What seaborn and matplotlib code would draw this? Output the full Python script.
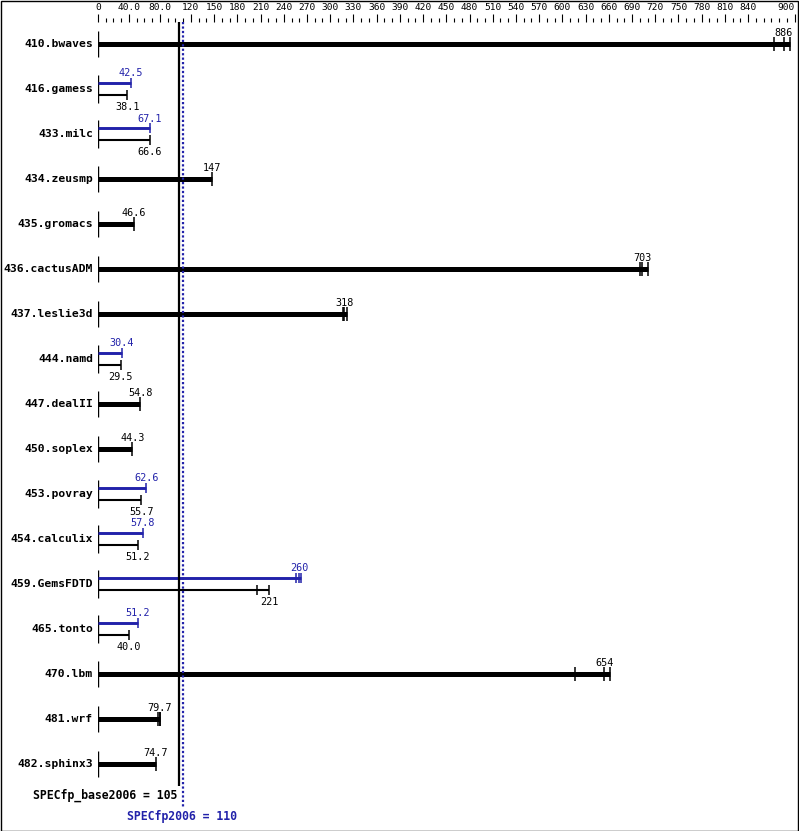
import numpy as np
import pandas as pd
import matplotlib
matplotlib.use("Agg")
import matplotlib.pyplot as plt
from matplotlib.patches import Rectangle
import seaborn as sns

benchmarks = ["410.bwaves", "416.gamess", "433.milc", "434.zeusmp", "435.gromacs",
              "436.cactusADM", "437.leslie3d", "444.namd", "447.dealII", "450.soplex",
              "453.povray", "454.calculix", "459.GemsFDTD", "465.tonto", "470.lbm",
              "481.wrf", "482.sphinx3"]
base_score = [886, 38.1, 66.6, 147, 46.6, 703, 318, 29.5, 54.8, 44.3,
              55.7, 51.2, 221, 40.0, 654, 79.7, 74.7]
peak_score = [None, 42.5, 67.1, None, None, None, None, 30.4, None, None,
              62.6, 57.8, 260, 51.2, None, None, None]
# individual run results (ticks on the bars)
base_runs = [[873, 886, 894], [38.1], [66.6], [147], [46.6], [700, 703, 711],
             [317, 318, 322], [29.5], [54.8], [44.3], [55.7], [51.2], [205, 221],
             [40.0], [616, 654, 662], [77.0, 79.7, 80.2], [74.7]]
peak_runs = [None, [42.5], [67.1], None, None, None, None, [30.4], None, None,
             [62.6], [57.8], [256, 260, 262], [51.2], None, None, None]
base_mean = 105
peak_mean = 110
tick_labels = [0, 40, 80, 120, 150, 180, 210, 240, 270, 300, 330, 360, 390, 420,
               450, 480, 510, 540, 570, 600, 630, 660, 690, 720, 750, 780, 810, 840, 900]

BLUE = "#2222aa"
MONO = "DejaVu Sans Mono"

sns.set_theme(style="white")
plt.rcParams["font.family"] = [MONO, "DejaVu Sans"]

W, H = 799, 831
fig = plt.figure(figsize=(W / 100, H / 100), dpi=100)
fig.patch.set_facecolor("white")
ax = fig.add_axes([98 / W, 0, 700 / W, (H - 22) / H])

px = 1 / 45.0          # one pixel in row units
ax.set_ylim((H - 44) * px, -22 * px)
ax.set_xlim(0, 700 / 0.774)


def fmt(v):
    return f"{v:.0f}" if v >= 100 else f"{v:.1f}"


def draw_bar(y, runs, score, color, lw, cap):
    ax.hlines(y, 0, max(runs), color=color, lw=lw, zorder=3)
    for v in sorted(set(runs)):
        ax.vlines(v, y - cap * px, y + cap * px, color=color, lw=1.1, zorder=3)


for i, name in enumerate(benchmarks):
    ax.text(-6.5, i, name, ha="right", va="center", fontsize=8.2,
            fontweight="bold", color="black")
    if peak_score[i] is None:
        ax.vlines(0, i - 13 * px, i + 13 * px, color="black", lw=1.0)
        draw_bar(i, base_runs[i], base_score[i], "black", 3.6, 7)
        ax.text(base_score[i], i - 11 * px, fmt(base_score[i]), ha="center",
                va="center", fontsize=7.3, color="black")
    else:
        ax.vlines(0, i - 14 * px, i + 14 * px, color="black", lw=1.0)
        draw_bar(i - 6 * px, peak_runs[i], peak_score[i], BLUE, 2.1, 5)
        draw_bar(i + 6 * px, base_runs[i], base_score[i], "black", 1.5, 5)
        ax.text(peak_score[i], i - 15.5 * px, fmt(peak_score[i]), ha="center",
                va="center", fontsize=7.3, color=BLUE)
        ax.text(base_score[i], i + 18 * px, fmt(base_score[i]), ha="center",
                va="center", fontsize=7.3, color="black")

# overall means
ax.vlines(base_mean, -22 * px, (786 - 44) * px, color="black", lw=1.6, zorder=4)
ax.vlines(peak_mean, -22 * px, (808 - 44) * px, color=BLUE, lw=1.6,
          linestyles=(0, (1, 1)), zorder=4)
ax.text(base_mean - 2, (795 - 44) * px, f"SPECfp_base2006 = {base_mean}",
        ha="right", va="center", fontsize=8.3, fontweight="bold", color="black")
ax.text(peak_mean - 2, (817 - 44) * px, f"SPECfp2006 = {peak_mean}",
        ha="center", va="center", fontsize=8.3, fontweight="bold", color=BLUE)

# top scale
for s in ax.spines.values():
    s.set_visible(False)
ax.xaxis.set_ticks_position("top")
ax.xaxis.set_label_position("top")
ax.set_xticks(tick_labels)
ax.set_xticklabels([f"{t:.1f}" if 0 < t < 100 else str(t) for t in tick_labels],
                   fontsize=6.8)
ax.set_xticks(np.arange(0, 905, 10), minor=True)
ax.tick_params(axis="x", which="major", top=True, bottom=False, direction="out",
               length=6, width=0.8, pad=1.5, colors="black")
ax.tick_params(axis="x", which="minor", top=True, bottom=False, direction="out",
               length=3, width=0.8, colors="black")
ax.get_xticklabels()[-1].set_ha("right")
ax.set_yticks([])
ax.grid(False)

fig.add_artist(Rectangle((0.5 / W, 0.5 / H), (W - 1.5) / W, (H - 1.5) / H,
                         transform=fig.transFigure, fill=False,
                         edgecolor="black", lw=1.0))

fig.savefig("out.png", dpi=100)
